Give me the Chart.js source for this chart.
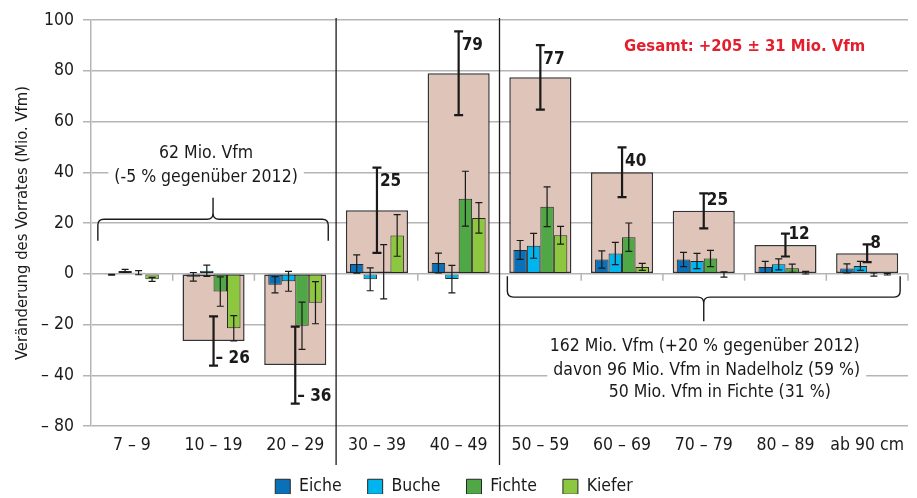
<!DOCTYPE html>
<html><head><meta charset="utf-8">
<script src="https://cdn.jsdelivr.net/npm/chart.js@4.4.1/dist/chart.umd.min.js"></script>
<style>html,body{margin:0;padding:0;background:#fff;}</style>
</head><body>
<canvas id="c" width="917" height="498" style="width:917px;height:498px;display:block"></canvas>
<script>
// ---- data ----
const categories = ['7 – 9','10 – 19','20 – 29','30 – 39','40 – 49','50 – 59','60 – 69','70 – 79','80 – 89','ab 90 cm'];
const yTickValues = [-60,-40,-20,0,20,40,60,80,100];
const yTickLabels = ['– 80','– 40','– 20','0','20','40','60','80','100'];

const totalValues = [null,-26.5,-36,25,79,77.4,40,24.8,11.3,8.1];
const totalErrors = [null,9.7,15.2,16.8,16.5,12.7,9.8,6.9,4.5,3.5];
const totalLabels = [null,'– 26','– 36','25','79','77','40','25','12','8'];

const eicheValues  = [-0.4,-1.2,-4.3,3.8,4.2,9.4,5.6,5.6,2.7,2.1];
const eicheErrors  = [0.2,1.7,3.2,3.6,3.9,3.7,3.4,2.8,2.2,1.8];
const bucheValues  = [1.1,1.2,-3.0,-2.2,-2.1,11.0,8.0,5.0,3.7,3.1];
const bucheErrors  = [0.6,2.2,3.9,4.5,5.4,4.9,4.4,3.0,2.2,1.8];
const fichteValues = [0.4,-7.0,-20.5,0.8,29.6,26.4,14.4,6.0,2.2,-0.3];
const fichteErrors = [0.8,5.8,9.3,10.7,10.8,7.8,5.6,3.2,1.6,0.6];
const kieferValues = [-2.2,-21.5,-11.4,15.1,22.0,15.2,2.7,-0.3,0.4,-0.2];
const kieferErrors = [0.8,5.0,8.3,8.2,6.0,3.5,1.4,1.0,0.5,0.3];

const seriesNames  = ['Eiche','Buche','Fichte','Kiefer'];
const seriesValues = [eicheValues,bucheValues,fichteValues,kieferValues];
const seriesErrors = [eicheErrors,bucheErrors,fichteErrors,kieferErrors];
const seriesColors = ['#0a71b8','#00b5ee','#50a746','#8dc63f'];
const totalColor = '#dfc4b9';

const yTitle = 'Veränderung des Vorrates (Mio. Vfm)';
const gesamtText = 'Gesamt: +205 ± 31 Mio. Vfm';
const upperNote = ['62 Mio. Vfm','(-5 % gegenüber 2012)'];
const lowerNote = ['162 Mio. Vfm (+20 % gegenüber 2012)','davon 96 Mio. Vfm in Nadelholz (59 %)','50 Mio. Vfm in Fichte (31 %)'];

// ---- styling ----
const FONT = '"DejaVu Sans Condensed","Liberation Sans",sans-serif';
const FS = 17.5;
Chart.defaults.font.family = FONT;
Chart.defaults.font.size = FS;
Chart.defaults.color = '#1a1a1a';
const GRID = '#b5b5b5';
const INK = '#1a1a1a';

const datasets = [{
  label: 'Gesamt',
  data: totalValues,
  errors: totalErrors,
  backgroundColor: totalColor,
  borderColor: '#333333',
  borderWidth: 1.5,
  borderSkipped: false,
  grouped: false,
  categoryPercentage: 1,
  barPercentage: 0.76,
  order: 2,
  isTotal: true
}];
seriesNames.forEach((n,i)=>{
  datasets.push({
    label: n,
    data: seriesValues[i],
    errors: seriesErrors[i],
    backgroundColor: seriesColors[i],
    borderColor: '#262626',
    borderWidth: 1,
    borderSkipped: false,
    categoryPercentage: 0.66,
    barPercentage: 1,
    order: 1
  });
});

function drawBrace(ctx, x1, x2, yLine, yEnd, yTip, r){
  const mid = (x1+x2)/2;
  const de = Math.sign(yEnd-yLine), dt = Math.sign(yTip-yLine);
  ctx.beginPath();
  ctx.moveTo(x1, yEnd);
  ctx.lineTo(x1, yLine+de*r);
  ctx.quadraticCurveTo(x1, yLine, x1+r, yLine);
  ctx.lineTo(mid-r, yLine);
  ctx.quadraticCurveTo(mid, yLine, mid, yLine+dt*r);
  ctx.lineTo(mid, yTip);
  ctx.moveTo(mid, yLine+dt*r);
  ctx.quadraticCurveTo(mid, yLine, mid+r, yLine);
  ctx.lineTo(x2-r, yLine);
  ctx.quadraticCurveTo(x2, yLine, x2, yLine+de*r);
  ctx.lineTo(x2, yEnd);
  ctx.stroke();
}
function boxedText(ctx, txt, x, y){
  const w = ctx.measureText(txt).width;
  ctx.fillStyle = '#fff';
  ctx.fillRect(x-w/2-6, y-10, w+12, 20);
  ctx.fillStyle = INK;
  ctx.fillText(txt, x, y);
}

const overlay = {
  id: 'overlay',
  beforeLayout(chart){
    const lg = chart.legend;
    if (lg && !lg._fixed){
      const f = lg.fit.bind(lg);
      lg.fit = function(){ f(); this.height = 42; };
      lg._fixed = true;
    }
  },
  afterLayout(chart){
    const lg = chart.legend;
    if (lg){ lg.top -= 4; lg.bottom -= 4; }
  },
  afterDatasetsDraw(chart){
    const ctx = chart.ctx, y = chart.scales.y;
    ctx.save();
    ctx.strokeStyle = INK;
    chart.data.datasets.forEach((ds, di)=>{
      const meta = chart.getDatasetMeta(di);
      meta.data.forEach((bar, i)=>{
        const v = ds.data[i], e = ds.errors[i];
        if (v == null || e == null) return;
        const top = y.getPixelForValue(v+e), bot = y.getPixelForValue(v-e);
        const cap = ds.isTotal ? 4.5 : 3.5;
        ctx.lineWidth = ds.isTotal ? 2.2 : 1.2;
        ctx.beginPath();
        ctx.moveTo(bar.x, top); ctx.lineTo(bar.x, bot);
        ctx.moveTo(bar.x-cap, top); ctx.lineTo(bar.x+cap, top);
        ctx.moveTo(bar.x-cap, bot); ctx.lineTo(bar.x+cap, bot);
        ctx.stroke();
        if (ds.isTotal && totalLabels[i]){
          ctx.font = 'bold 17px ' + FONT;
          ctx.fillStyle = INK;
          ctx.textAlign = 'left';
          ctx.textBaseline = 'middle';
          if (v >= 0){
            const ly = Math.min(bar.y - 10, top + 14);
            ctx.fillText(totalLabels[i], bar.x + 3, ly);
          } else {
            ctx.fillText(totalLabels[i], bar.x + 2, bot - 7);
          }
        }
      });
    });
    ctx.restore();
  },
  afterDraw(chart){
    const ctx = chart.ctx, y = chart.scales.y, x = chart.scales.x, ca = chart.chartArea;
    const cw = x.getPixelForValue(1) - x.getPixelForValue(0);
    ctx.save();
    const y0 = y.getPixelForValue(0);
    ctx.strokeStyle = GRID; ctx.lineWidth = 1.5;
    for (let k=1;k<=categories.length;k++){
      if (k===3 || k===5) continue;
      const xb = x.getPixelForValue(k-1) + cw/2;
      ctx.beginPath(); ctx.moveTo(xb, y0); ctx.lineTo(xb, y0+7); ctx.stroke();
    }
    ctx.strokeStyle = INK; ctx.lineWidth = 1.3;
    [2,4].forEach(k=>{
      const xs = (x.getPixelForValue(k)+x.getPixelForValue(k+1))/2;
      ctx.beginPath(); ctx.moveTo(xs, ca.top-2); ctx.lineTo(xs, ca.bottom+39); ctx.stroke();
    });
    ctx.lineWidth = 1.4; ctx.strokeStyle = INK;
    const ux1 = x.getPixelForValue(0)-34, ux2 = x.getPixelForValue(2)+33;
    drawBrace(ctx, ux1, ux2, y.getPixelForValue(21.5), y.getPixelForValue(13), y.getPixelForValue(30), 6);
    const lx1 = x.getPixelForValue(5)-33, lx2 = x.getPixelForValue(9)+33;
    drawBrace(ctx, lx1, lx2, y.getPixelForValue(-9.2), y.getPixelForValue(-1), y.getPixelForValue(-18.7), 6);
    ctx.font = FS + 'px ' + FONT;
    ctx.textAlign = 'center'; ctx.textBaseline = 'middle';
    const um = (ux1+ux2)/2 - 7;
    boxedText(ctx, upperNote[0], um, y.getPixelForValue(47.5));
    boxedText(ctx, upperNote[1], um, y.getPixelForValue(38));
    const lm = (lx1+lx2)/2;
    boxedText(ctx, lowerNote[0], lm+1, y.getPixelForValue(-28.6));
    boxedText(ctx, lowerNote[1], lm+3, y.getPixelForValue(-38));
    boxedText(ctx, lowerNote[2], lm+16, y.getPixelForValue(-46.9));
    ctx.font = 'bold 16.5px ' + FONT;
    ctx.fillStyle = '#e31e2d';
    ctx.fillText(gesamtText, (x.getPixelForValue(7)+x.getPixelForValue(8))/2, y.getPixelForValue(89.5));
    ctx.restore();
  }
};

new Chart(document.getElementById('c'), {
  type: 'bar',
  data: { labels: categories, datasets },
  options: {
    responsive: false,
    devicePixelRatio: 1,
    animation: false,
    layout: { padding: { top: 20, right: 9, left: 0, bottom: 0 } },
    plugins: {
      tooltip: { enabled: false },
      legend: {
        position: 'bottom',
        labels: {
          filter: item => item.text !== 'Gesamt',
          boxWidth: 15, boxHeight: 15, padding: 26,
          font: { size: FS }, color: INK
        }
      }
    },
    scales: {
      x: {
        grid: { display: false, drawTicks: false },
        border: { display: false },
        ticks: { padding: 9, maxRotation: 0, autoSkip: false, color: INK, font: { size: FS } },
        afterFit(s){ s.height = 30; }
      },
      y: {
        min: -60, max: 100,
        afterBuildTicks(s){ s.ticks = yTickValues.map(v=>({value:v})); },
        grid: { color: GRID, lineWidth: 1.5, tickLength: 8 },
        border: { color: GRID, width: 1.5 },
        ticks: {
          padding: 9, color: INK, font: { size: FS },
          callback: v => yTickLabels[yTickValues.indexOf(v)]
        },
        title: { display: true, text: yTitle, font: { size: 16.5 }, color: INK, padding: { top: 13, bottom: 0 } },
        afterFit(s){ s.width = 91; }
      }
    }
  },
  plugins: [overlay]
});
</script>
</body></html>
